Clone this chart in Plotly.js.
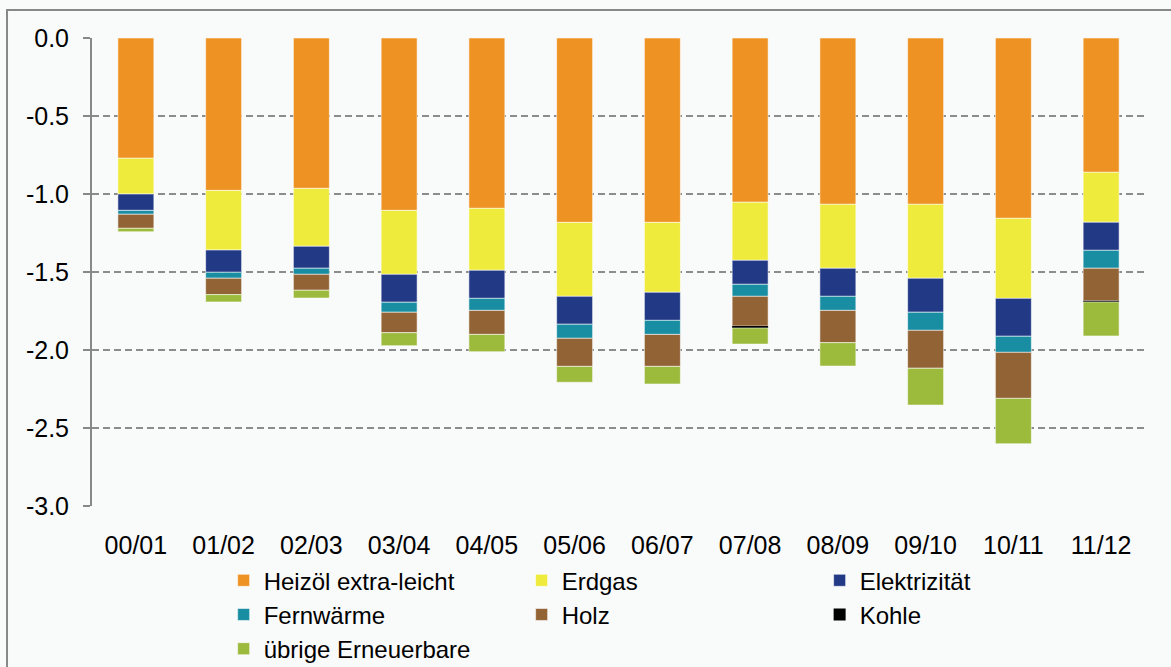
<!DOCTYPE html>
<html>
<head>
<meta charset="utf-8">
<script src="https://cdn.plot.ly/plotly-3.0.1.min.js"></script>
<style>
html,body{margin:0;padding:0;background:#f9fafa;}
#chart{width:1171px;height:667px;}
</style>
</head>
<body>
<div id="chart"></div>
<script>
// Categories (heating periods)
const categories = ["00/01","01/02","02/03","03/04","04/05","05/06","06/07","07/08","08/09","09/10","10/11","11/12"];

// Series values (negative contributions)
const heizoel   = [-0.771,-0.977,-0.964,-1.105,-1.092,-1.182,-1.182,-1.053,-1.066,-1.066,-1.156,-0.861];
const erdgas    = [-0.229,-0.382,-0.371,-0.410,-0.397,-0.474,-0.448,-0.372,-0.410,-0.474,-0.513,-0.320];
const elektr    = [-0.105,-0.143,-0.141,-0.179,-0.180,-0.179,-0.180,-0.154,-0.180,-0.218,-0.243,-0.180];
const fernwaerme= [-0.025,-0.038,-0.039,-0.064,-0.077,-0.090,-0.090,-0.077,-0.090,-0.116,-0.103,-0.115];
const holz      = [-0.090,-0.105,-0.102,-0.131,-0.154,-0.180,-0.205,-0.190,-0.207,-0.243,-0.295,-0.208];
const kohle     = [0,0,0,0,0,0,0,-0.013,0,0,0,-0.008];
const uebrige   = [-0.022,-0.047,-0.050,-0.083,-0.111,-0.102,-0.113,-0.103,-0.150,-0.236,-0.291,-0.218];

const seriesNames = ["Heizöl extra-leicht","Erdgas","Elektrizität","Fernwärme","Holz","Kohle","übrige Erneuerbare"];
const seriesData  = [heizoel, erdgas, elektr, fernwaerme, holz, kohle, uebrige];
const seriesColors = ["#ee9223","#eeeb3c","#223a86","#198ea2","#926335","#000000","#9cba3c"];

// y tick values and labels (plain hyphen as in the original)
const yTicks = [0,-0.5,-1.0,-1.5,-2.0,-2.5,-3.0];
const yTickLabels = ["0.0","-0.5","-1.0","-1.5","-2.0","-2.5","-3.0"];

const xIdx = categories.map((c,i)=>i);
const boundaries = categories.map((c,i)=>i-0.5).concat([categories.length-0.5]);

const traces = seriesData.map((vals,k)=>({
  type:'bar',
  name: seriesNames[k],
  x: xIdx,
  y: vals,
  width: 0.41,
  marker:{color: seriesColors[k], line:{color:'rgba(255,255,255,0.55)', width: k===5 ? 0 : 1}},
  hoverinfo:'skip'
}));

const font = {family:'"Liberation Sans", Arial, sans-serif', size:25, color:'#000'};

const layout = {
  width:1171, height:667,
  paper_bgcolor:'#f9fafa',
  plot_bgcolor:'#f9fafa',
  font: font,
  barmode:'relative',
  showlegend:true,
  margin:{l:92, r:26, t:38, b:161, pad:0, autoexpand:false},
  xaxis:{
    range:[-0.5, categories.length-0.5],
    tickmode:'array', tickvals:xIdx, ticktext:categories,
    showline:false, showgrid:false, zeroline:false, ticks:'',
    ticklabelstandoff:22,
    automargin:false,
    tickfont:font
  },
  xaxis2:{
    overlaying:'x', matches:'x', side:'top', anchor:'y',
    range:[-0.5, categories.length-0.5],
    tickmode:'array', tickvals:boundaries, showticklabels:false,
    ticks:'inside', ticklen:7, tickwidth:2, tickcolor:'#888888',
    showline:true, linecolor:'#888888', linewidth:2,
    showgrid:false, zeroline:false
  },
  yaxis:{
    range:[-3.0, 0.0],
    tickmode:'array', tickvals:yTicks, ticktext:yTickLabels,
    showline:true, linecolor:'#888888', linewidth:2,
    ticks:'outside', ticklen:7, tickwidth:2, tickcolor:'#888888',
    showgrid:true, gridcolor:'#8c8c8c', gridwidth:2, griddash:'7px,4px',
    zeroline:false,
    ticklabelstandoff:9,
    automargin:false,
    tickfont:font
  },
  legend:{
    orientation:'h',
    x:0.125, xanchor:'left',
    y:-0.1115, yanchor:'top',
    entrywidth:253,
    traceorder:'normal',
    font:{family:font.family, size:24, color:'#000'},
    bgcolor:'rgba(0,0,0,0)',
    itemclick:false
  },
  shapes:[{
    type:'rect', xref:'paper', yref:'paper',
    x0:-0.0807, x1:1.2, y0:-0.6, y1:1.0598,
    line:{color:'#888888', width:2}, fillcolor:'rgba(0,0,0,0)', layer:'below'
  }]
};

Plotly.newPlot('chart', traces, layout, {displayModeBar:false, staticPlot:true});
</script>
</body>
</html>
